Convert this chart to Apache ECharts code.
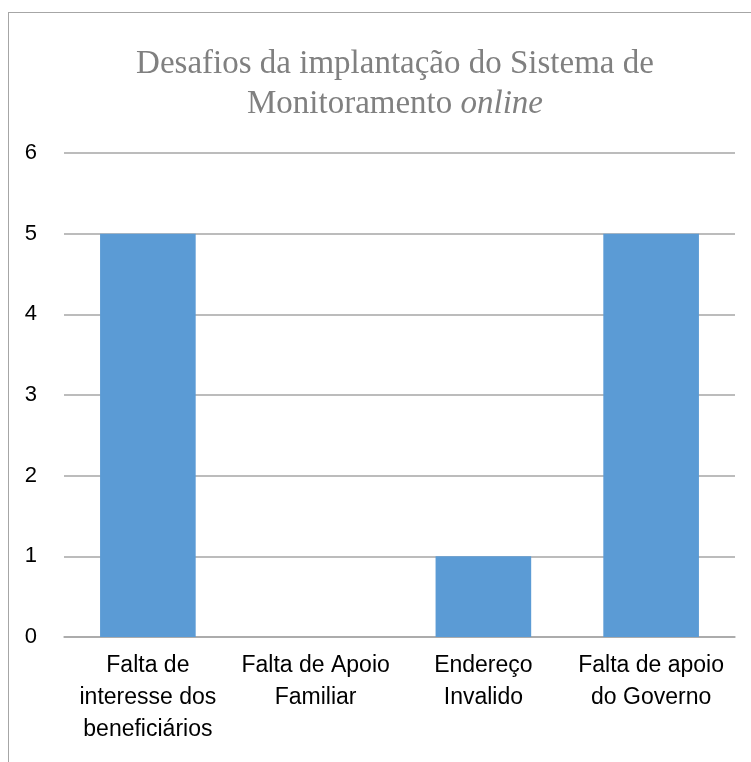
<!DOCTYPE html>
<html>
<head>
<meta charset="utf-8">
<script src="https://cdn.jsdelivr.net/npm/echarts@6/dist/echarts.min.js"></script>
<style>
  body { margin: 0; background: #fff; }
  #chart { position: absolute; left: 0; top: 0; width: 751px; height: 762px; }
  #frame { position: absolute; left: 8px; top: 12px; width: 800px; height: 800px;
           border-top: 1px solid #a6a6a6; border-left: 1px solid #a6a6a6; pointer-events: none; }
</style>
</head>
<body>
<div id="chart"></div>
<div id="frame"></div>
<script>
  // dados do grafico
  const categorias = [
    'Falta de\ninteresse dos\nbeneficiários',
    'Falta de Apoio\nFamiliar',
    'Endereço\nInvalido',
    'Falta de apoio\ndo Governo'
  ]
  const valores = [5, 0, 1, 5]
  const eixoY = { min: 0, max: 6, interval: 1 }

  const myChart = echarts.init(document.getElementById('chart'))

  myChart.setOption({
    animation: false,
    title: {
      text: 'Desafios da implantação do Sistema de\nMonitoramento {i|online}',
      left: 390,
      top: 39,
      textAlign: 'center',
      textStyle: {
        fontFamily: 'Liberation Serif',
        fontSize: 33,
        fontWeight: 'normal',
        color: '#808080',
        lineHeight: 40,
        rich: {
          i: {
            fontFamily: 'Liberation Serif',
            fontSize: 33,
            fontStyle: 'italic',
            color: '#808080',
            lineHeight: 40
          }
        }
      }
    },
    grid: {
      left: 64,
      right: 16,
      top: 153,
      bottom: 125,
      containLabel: false
    },
    xAxis: {
      type: 'category',
      data: categorias,
      axisLine: { lineStyle: { color: '#a6a6a6', width: 1.5 } },
      axisTick: { show: false },
      axisLabel: {
        interval: 0,
        margin: 13,
        fontFamily: 'Liberation Sans',
        fontSize: 23,
        lineHeight: 32,
        color: '#000'
      }
    },
    yAxis: {
      type: 'value',
      min: eixoY.min,
      max: eixoY.max,
      interval: eixoY.interval,
      axisLine: { show: false },
      axisTick: { show: false },
      splitLine: { lineStyle: { color: '#a6a6a6', width: 1.5 } },
      axisLabel: {
        margin: 27,
        fontFamily: 'Liberation Sans',
        fontSize: 22,
        color: '#000'
      }
    },
    series: [
      {
        type: 'bar',
        data: valores,
        barWidth: '57%',
        itemStyle: { color: '#5b9bd5' }
      }
    ]
  })
</script>
</body>
</html>
